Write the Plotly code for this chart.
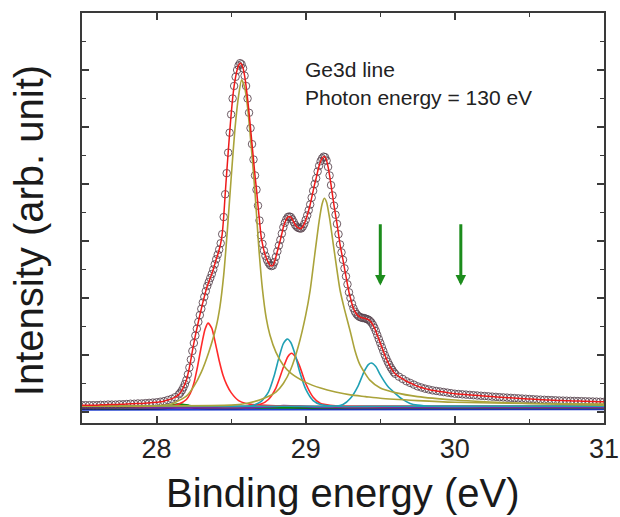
import plotly.graph_objects as go

# ---------------- data ----------------
def grid(start, step, n):
    return [round(start + step * i, 3) for i in range(n)]

# measured spectrum (open circles); x sampling grid in three segments
energy_left = grid(27.5, 0.025, 27)        # 27.500 .. 28.150
energy_mid = grid(28.16, 0.01, 145)        # 28.16 .. 29.60
energy_right = grid(29.625, 0.025, 56)     # 29.625 .. 31.000

intensity_left = [0.12, 0.12, 0.12, 0.12, 0.12, 0.125, 0.125, 0.13, 0.13, 0.13,
                  0.135, 0.135, 0.14, 0.145, 0.145, 0.15, 0.15, 0.155, 0.16, 0.165,
                  0.17, 0.18, 0.19, 0.21, 0.23, 0.26, 0.31]
intensity_mid = [0.34, 0.38, 0.43, 0.49, 0.56, 0.66, 0.78, 0.92, 1.07, 1.21,
                 1.34, 1.46, 1.58, 1.70, 1.81, 1.92, 2.02, 2.12, 2.21, 2.28,
                 2.35, 2.42, 2.50, 2.59, 2.68, 2.76, 2.85, 2.96, 3.12, 3.42,
                 3.82, 4.19, 4.55, 4.90, 5.22, 5.50, 5.72, 5.88, 6.00, 6.08,
                 6.12, 6.10, 6.03, 5.90, 5.72, 5.50, 5.25, 4.98, 4.70, 4.43,
                 4.15, 3.90, 3.62, 3.36, 3.10, 2.95, 2.83, 2.74, 2.67, 2.62,
                 2.58, 2.56, 2.57, 2.63, 2.72, 2.82, 2.92, 3.02, 3.13, 3.24,
                 3.32, 3.38, 3.42, 3.43, 3.42, 3.38, 3.33, 3.28, 3.25, 3.23,
                 3.22, 3.22, 3.25, 3.30, 3.37, 3.45, 3.54, 3.64, 3.76, 3.88,
                 4.00, 4.10, 4.22, 4.32, 4.40, 4.45, 4.48, 4.47, 4.41, 4.30,
                 4.15, 3.98, 3.80, 3.62, 3.46, 3.30, 3.12, 2.94, 2.80, 2.67,
                 2.52, 2.38, 2.24, 2.10, 2.00, 1.90, 1.82, 1.76, 1.72, 1.69,
                 1.67, 1.66, 1.65, 1.65, 1.64, 1.63, 1.62, 1.60, 1.57, 1.53,
                 1.48, 1.42, 1.35, 1.28, 1.21, 1.14, 1.07, 1.00, 0.94, 0.88,
                 0.83, 0.78, 0.74, 0.70, 0.67]
intensity_right = [0.62, 0.58, 0.54, 0.51, 0.48, 0.45, 0.43, 0.41, 0.395, 0.38,
                   0.37, 0.36, 0.35, 0.34, 0.33, 0.32, 0.315, 0.31, 0.305, 0.30,
                   0.295, 0.29, 0.285, 0.28, 0.275, 0.27, 0.265, 0.26, 0.256, 0.252,
                   0.248, 0.244, 0.24, 0.236, 0.232, 0.228, 0.224, 0.22, 0.217, 0.214,
                   0.211, 0.208, 0.205, 0.202, 0.20, 0.198, 0.196, 0.194, 0.192, 0.19,
                   0.188, 0.186, 0.184, 0.182, 0.18, 0.178]

data_energy = energy_left + energy_mid + energy_right
data_intensity = intensity_left + intensity_mid + intensity_right

# fitted components
olive1_e = [27.5, 28.0, 28.1, 28.2, 28.25, 28.3, 28.35, 28.4, 28.425, 28.45,
            28.475, 28.5, 28.525, 28.55, 28.57, 28.59, 28.61, 28.635, 28.66, 28.685,
            28.71, 28.735, 28.76, 28.8, 28.85, 28.9, 29.0, 29.1, 29.2, 29.3,
            29.4, 29.5, 29.75, 30.0, 30.5, 31.0]
olive1_v = [0.10, 0.11, 0.14, 0.28, 0.45, 0.70, 1.05, 1.50, 1.85, 2.40,
            3.20, 4.10, 4.95, 5.55, 5.83, 5.70, 5.35, 4.65, 3.85, 2.90,
            2.15, 1.65, 1.35, 1.05, 0.82, 0.68, 0.52, 0.42, 0.35, 0.30,
            0.27, 0.24, 0.20, 0.17, 0.15, 0.14]

olive2_e = [27.5, 28.0, 28.5, 28.6, 28.7, 28.8, 28.85, 28.9, 28.95, 29.0, 29.03,
            29.06, 29.09, 29.11, 29.125, 29.14, 29.16, 29.19, 29.23, 29.26, 29.3,
            29.33, 29.36, 29.4, 29.43, 29.5, 29.6, 29.75, 30.0, 30.2, 30.5, 31.0]
olive2_v = [0.10, 0.105, 0.12, 0.15, 0.22, 0.35, 0.50, 0.75, 1.15, 1.70, 2.14,
            2.75, 3.35, 3.65, 3.75, 3.68, 3.40, 2.85, 2.14, 1.80, 1.40,
            1.08, 0.85, 0.67, 0.56, 0.42, 0.34, 0.27, 0.21, 0.18, 0.15, 0.12]

red1_e = [27.5, 27.8, 28.0, 28.1, 28.15, 28.2, 28.225, 28.25, 28.275, 28.3, 28.325,
          28.345, 28.37, 28.395, 28.42, 28.445, 28.47, 28.5, 28.55, 28.6, 28.7,
          28.8, 29.0, 29.5, 30.0, 31.0]
red1_v = [0.10, 0.10, 0.10, 0.11, 0.14, 0.22, 0.32, 0.50, 0.80, 1.15, 1.45,
          1.56, 1.47, 1.20, 0.90, 0.65, 0.48, 0.34, 0.20, 0.15, 0.12,
          0.11, 0.10, 0.10, 0.10, 0.10]

red2_e = [27.5, 28.0, 28.4, 28.6, 28.7, 28.75, 28.8, 28.85, 28.88, 28.905, 28.93,
          28.96, 29.0, 29.05, 29.1, 29.2, 29.3, 29.6, 30.0, 31.0]
red2_v = [0.10, 0.10, 0.10, 0.10, 0.14, 0.22, 0.42, 0.78, 0.97, 1.03, 0.97,
          0.80, 0.50, 0.26, 0.15, 0.11, 0.10, 0.10, 0.10, 0.10]

cyan1_e = [27.5, 28.0, 28.4, 28.6, 28.65, 28.7, 28.75, 28.79, 28.82, 28.85, 28.877,
           28.9, 28.93, 28.96, 29.0, 29.05, 29.1, 29.2, 29.5, 30.0, 31.0]
cyan1_v = [0.10, 0.10, 0.10, 0.10, 0.12, 0.18, 0.35, 0.65, 0.95, 1.20, 1.28,
           1.22, 1.00, 0.70, 0.40, 0.20, 0.13, 0.10, 0.10, 0.10, 0.10]

cyan2_e = [27.5, 28.0, 28.6, 29.0, 29.2, 29.25, 29.3, 29.35, 29.39, 29.42, 29.44,
           29.47, 29.5, 29.55, 29.59, 29.65, 29.7, 29.75, 29.85, 30.2, 31.0]
cyan2_v = [0.10, 0.10, 0.10, 0.10, 0.10, 0.13, 0.24, 0.45, 0.70, 0.83, 0.86,
           0.80, 0.65, 0.45, 0.35, 0.22, 0.15, 0.12, 0.10, 0.10, 0.10]

# background / minor components near the baseline
blue_e = [27.5, 31.0]
blue_v = [0.045, 0.055]
navy_e = [27.5, 28.0, 28.1, 28.17, 28.25, 28.4, 28.6, 28.7, 28.8, 28.9, 29.0, 29.2, 31.0]
navy_v = [0.06, 0.065, 0.08, 0.10, 0.08, 0.07, 0.075, 0.09, 0.10, 0.09, 0.075, 0.07, 0.07]
green_e = [27.5, 28.0, 28.08, 28.15, 28.22, 28.3, 28.5, 31.0]
green_v = [0.07, 0.075, 0.10, 0.14, 0.11, 0.08, 0.075, 0.075]
purple_e = [27.5, 28.6, 28.75, 28.85, 28.95, 29.1, 29.3, 31.0]
purple_v = [0.075, 0.075, 0.09, 0.11, 0.10, 0.085, 0.08, 0.08]

# green arrows
arrow_energy = [29.5, 30.04]
arrow_top = 3.32
arrow_tip = 2.22

x_tickvals = [28, 29, 30, 31]
x_ticktext = ["28", "29", "30", "31"]

label_lines = ["Ge3d line", "Photon energy = 130 eV"]

# ---------------- figure ----------------
FONT = "Liberation Sans, Arial, Helvetica, sans-serif"
OLIVE = "#aaa33a"
RED = "#ff2a2a"
TEAL = "#20a0b4"

fig = go.Figure()

def add_line(xs, ys, color, width=1.6):
    fig.add_trace(go.Scatter(x=xs, y=ys, mode="lines",
                             line=dict(color=color, width=width, shape="spline", smoothing=0.6),
                             hoverinfo="skip", showlegend=False))

# baseline lines
add_line(blue_e, blue_v, "#1f3fd0", 2.6)
add_line(navy_e, navy_v, "#151560", 2.4)
add_line(green_e, green_v, "#128a12", 2.2)
add_line(purple_e, purple_v, "#7a2aa0", 2.0)

# data circles
fig.add_trace(go.Scatter(x=data_energy, y=data_intensity, mode="markers",
                         marker=dict(symbol="circle-open", size=7.5,
                                     color="rgba(85,65,75,0.85)", line=dict(width=1)),
                         hoverinfo="skip", showlegend=False))

# components
add_line(red1_e, red1_v, RED)
add_line(red2_e, red2_v, RED)
add_line(cyan1_e, cyan1_v, TEAL)
add_line(cyan2_e, cyan2_v, TEAL)
add_line(olive2_e, olive2_v, OLIVE)
add_line(olive1_e, olive1_v, OLIVE)

# fit line through the data
add_line(data_energy, data_intensity, "#ee1a1a", 1.5)

axis_common = dict(showline=True, linecolor="#3a3a3a", linewidth=1.6, mirror="ticks",
                   ticks="inside", tickcolor="#3a3a3a", tickwidth=1.6, ticklen=7,
                   showgrid=False, zeroline=False)

fig.update_xaxes(range=[27.5, 31.0], tickvals=x_tickvals, ticktext=x_ticktext,
                 tickfont=dict(family=FONT, size=27, color="#222"),
                 minor=dict(ticks="inside", dtick=0.5, tick0=27.5, ticklen=4,
                            tickcolor="#3a3a3a", tickwidth=1.4),
                 ticklabelstandoff=1,
                 **axis_common)
fig.update_yaxes(range=[-0.193, 7.0], tick0=0, dtick=1, showticklabels=False,
                 minor=dict(ticks="inside", dtick=0.5, tick0=0, ticklen=4,
                            tickcolor="#3a3a3a", tickwidth=1.4),
                 **axis_common)

annotations = []
for xe in arrow_energy:
    annotations.append(dict(x=xe, y=arrow_tip, ax=xe, ay=arrow_top, xref="x", yref="y",
                            axref="x", ayref="y", text="", showarrow=True,
                            arrowhead=2, arrowsize=0.7, arrowwidth=3,
                            arrowcolor="#1c8c1c", standoff=0, startstandoff=0))
# in-plot labels
annotations.append(dict(text=label_lines[0], x=0.4234, y=0.861, xref="paper", yref="paper",
                        xanchor="left", yanchor="middle", showarrow=False,
                        font=dict(family=FONT, size=21, color="#222")))
annotations.append(dict(text=label_lines[1], x=0.4234, y=0.7927, xref="paper", yref="paper",
                        xanchor="left", yanchor="middle", showarrow=False,
                        font=dict(family=FONT, size=21, color="#222")))
# axis titles
annotations.append(dict(text="Binding energy (eV)", x=0.5, y=-0.170, xref="paper", yref="paper",
                        xanchor="center", yanchor="middle", showarrow=False,
                        font=dict(family=FONT, size=40, color="#1a1a1a")))
annotations.append(dict(text="Intensity (arb. unit)", x=-0.1015, y=0.468, xref="paper", yref="paper",
                        xanchor="center", yanchor="middle", showarrow=False, textangle=-90,
                        font=dict(family=FONT, size=40, color="#1a1a1a")))

fig.update_layout(width=620, height=517,
                  margin=dict(l=82, r=16, t=13, b=94, autoexpand=False),
                  paper_bgcolor="white", plot_bgcolor="white",
                  showlegend=False, annotations=annotations)

fig.write_html("out.html", config={"displayModeBar": False},
               post_script="document.body.style.margin='0';document.body.style.overflow='hidden';")
